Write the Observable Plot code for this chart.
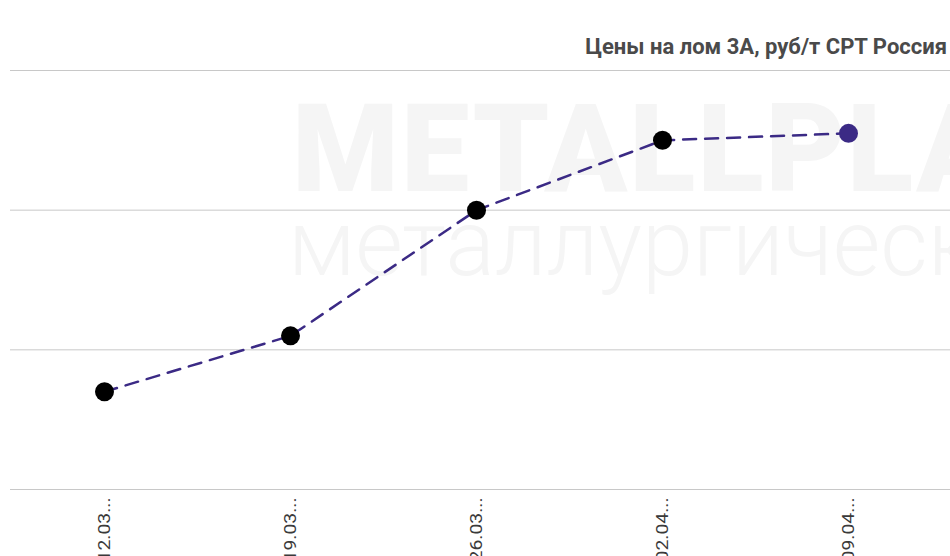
<!DOCTYPE html>
<html>
<head>
<meta charset="utf-8">
<script src="https://cdn.jsdelivr.net/npm/d3@7"></script>
<script src="https://cdn.jsdelivr.net/npm/@observablehq/plot@0.6"></script>
<style>
  html, body { margin: 0; padding: 0; background: #fff; }
  #wrap { position: relative; width: 950px; height: 556px; overflow: hidden; font-family: Roboto, sans-serif; }
  .wm1 { position: absolute; left: 292px; top: 78px; font: 900 122px Roboto, sans-serif; color: #f5f5f5; letter-spacing: 2px; white-space: nowrap; }
  .wm2 { position: absolute; left: 288px; top: 190px; font: 300 92px Roboto, sans-serif; color: #f5f5f5; white-space: nowrap; }
  #title { position: absolute; right: 3px; top: 34px; font: bold 22px Roboto, sans-serif; color: #4a4a4a; white-space: nowrap; }
  #chart { position: absolute; left: 0; top: 0; }
</style>
</head>
<body>
<div id="wrap">
  <div class="wm1">METALLPLANT</div>
  <div class="wm2">металлургический</div>
  <div id="chart"></div>
  <div id="title">Цены на лом 3А, руб/т CPT Россия</div>
</div>
<script>
const dates = ["12.03...", "19.03...", "26.03...", "02.04...", "09.04..."];
const prices = [24700, 25100, 26000, 26500, 26550];
const gridValues = [24000, 25000, 26000, 27000];

const data = dates.map((d, i) => ({date: d, price: prices[i], last: i === dates.length - 1}));

const chart = Plot.plot({
  width: 950,
  height: 556,
  marginTop: 70,
  marginBottom: 67,
  marginLeft: 10,
  marginRight: 0,
  style: {background: "transparent", fontFamily: "Roboto, sans-serif"},
  x: {type: "point", domain: dates, range: [103, 848], padding: 0, axis: null},
  y: {domain: [24000, 27000], axis: null},
  marks: [
    Plot.ruleY(gridValues, {stroke: "#c8c8c8", strokeWidth: 1}),
    Plot.line(data, {x: "date", y: "price", stroke: "#3b2a85", strokeWidth: 2.5, strokeDasharray: "13,9"}),
    Plot.dot(data, {x: "date", y: "price", r: 9.5, fill: d => d.last ? "#3b2a85" : "#000000", stroke: "none"}),
    Plot.axisX({
      anchor: "bottom",
      tickSize: 0,
      tickRotate: -90,
      tickPadding: 8,
      fontSize: 16,
      fill: "#3a3a3a",
      label: null
    })
  ]
});
d3.select(chart).selectAll("g[aria-label='x-axis tick label'] text")
  .attr("textLength", 64)
  .attr("lengthAdjust", "spacingAndGlyphs");
document.getElementById("chart").appendChild(chart);
</script>
</body>
</html>
